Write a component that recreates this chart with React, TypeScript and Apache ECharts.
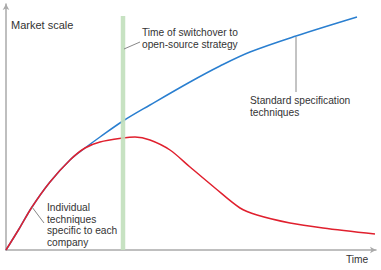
import React, { useEffect, useRef } from "react";
import * as echarts from "echarts";

// Curve values (x: time units, y: market scale units)
const standardX = [0, 13, 26, 44, 64, 79, 94, 117, 144, 184, 214, 244, 290, 351];
const standardY = [0, 21, 43, 68, 90, 102, 113, 129, 145, 168, 184, 198, 214, 233];
const individualX = [0, 13, 26, 44, 64, 79, 94, 117, 129, 144, 164, 184, 209, 234, 251, 284, 317, 369];
const individualY = [0, 21, 43, 68, 90, 102, 108, 112, 113, 110, 100, 83, 62, 42, 35, 27, 22, 16];
const switchoverX = 117;
const switchoverTop = 234;
const xMax = 370;
const yMax = 246;

const FONT = "Liberation Sans, Arial, sans-serif";

export default function App() {
  const ref = useRef<HTMLDivElement>(null);
  useEffect(() => {
    if (!ref.current) return;
    const chart = echarts.init(ref.current, undefined, { renderer: "svg" });
    const zip = (xs: number[], ys: number[]) => xs.map((x, i) => [x, ys[i]]);
    const axisStyle = { color: "#aaaaaa", width: 1.5 };
    chart.setOption({
      animation: false,
      grid: { left: 6, right: 5, top: 4, bottom: 20 },
      xAxis: {
        type: "value",
        min: 0,
        max: xMax,
        axisLine: { show: true, lineStyle: axisStyle, symbol: ["none", "arrow"], symbolSize: [5, 6] },
        axisTick: { show: false },
        axisLabel: { show: false },
        splitLine: { show: false },
      },
      yAxis: {
        type: "value",
        min: 0,
        max: yMax,
        axisLine: { show: true, lineStyle: axisStyle, symbol: ["none", "arrow"], symbolSize: [5, 6] },
        axisTick: { show: false },
        axisLabel: { show: false },
        splitLine: { show: false },
      },
      series: [
        {
          type: "line",
          data: zip(standardX, standardY),
          smooth: 0.35,
          showSymbol: false,
          lineStyle: { color: "#2a7fd0", width: 1.5 },
          silent: true,
        },
        {
          type: "line",
          data: zip(individualX, individualY),
          smooth: 0.3,
          showSymbol: false,
          lineStyle: { color: "#e0202e", width: 1.5 },
          silent: true,
        },
        {
          type: "line",
          data: [[switchoverX, 0], [switchoverX, switchoverTop]],
          showSymbol: false,
          lineStyle: { color: "#c2e0bd", width: 4.5, opacity: 0.92 },
          silent: true,
        },
        // leader lines
        {
          type: "line",
          data: [[118, 201], [134, 208]],
          showSymbol: false,
          lineStyle: { color: "#888888", width: 1 },
          silent: true,
        },
        {
          type: "line",
          data: [[290, 213], [290, 158]],
          showSymbol: false,
          lineStyle: { color: "#888888", width: 1 },
          silent: true,
        },
        {
          type: "line",
          data: [[26, 43], [38, 27]],
          showSymbol: false,
          lineStyle: { color: "#888888", width: 1 },
          silent: true,
        },
      ],
      graphic: [
        { type: "text", left: 11, top: 19, style: { text: "Market scale", font: `11px ${FONT}`, fill: "#333" } },
        {
          type: "text",
          left: 142,
          top: 26,
          style: { text: "Time of switchover to\nopen-source strategy", font: `10.2px ${FONT}`, fill: "#333", lineHeight: 12 },
        },
        {
          type: "text",
          left: 250,
          top: 94,
          style: { text: "Standard specification\ntechniques", font: `10.2px ${FONT}`, fill: "#333", lineHeight: 12 },
        },
        {
          type: "text",
          left: 47,
          top: 202,
          style: {
            text: "Individual\ntechniques\nspecific to each\ncompany",
            font: `10.2px ${FONT}`,
            fill: "#333",
            lineHeight: 11.5,
          },
        },
        { type: "text", left: 346, top: 254, style: { text: "Time", font: `10.2px ${FONT}`, fill: "#333" } },
      ],
    });
    return () => chart.dispose();
  }, []);
  return <div ref={ref} style={{ width: 381, height: 270, position: "absolute", left: 0, top: 0 }} />;
}
